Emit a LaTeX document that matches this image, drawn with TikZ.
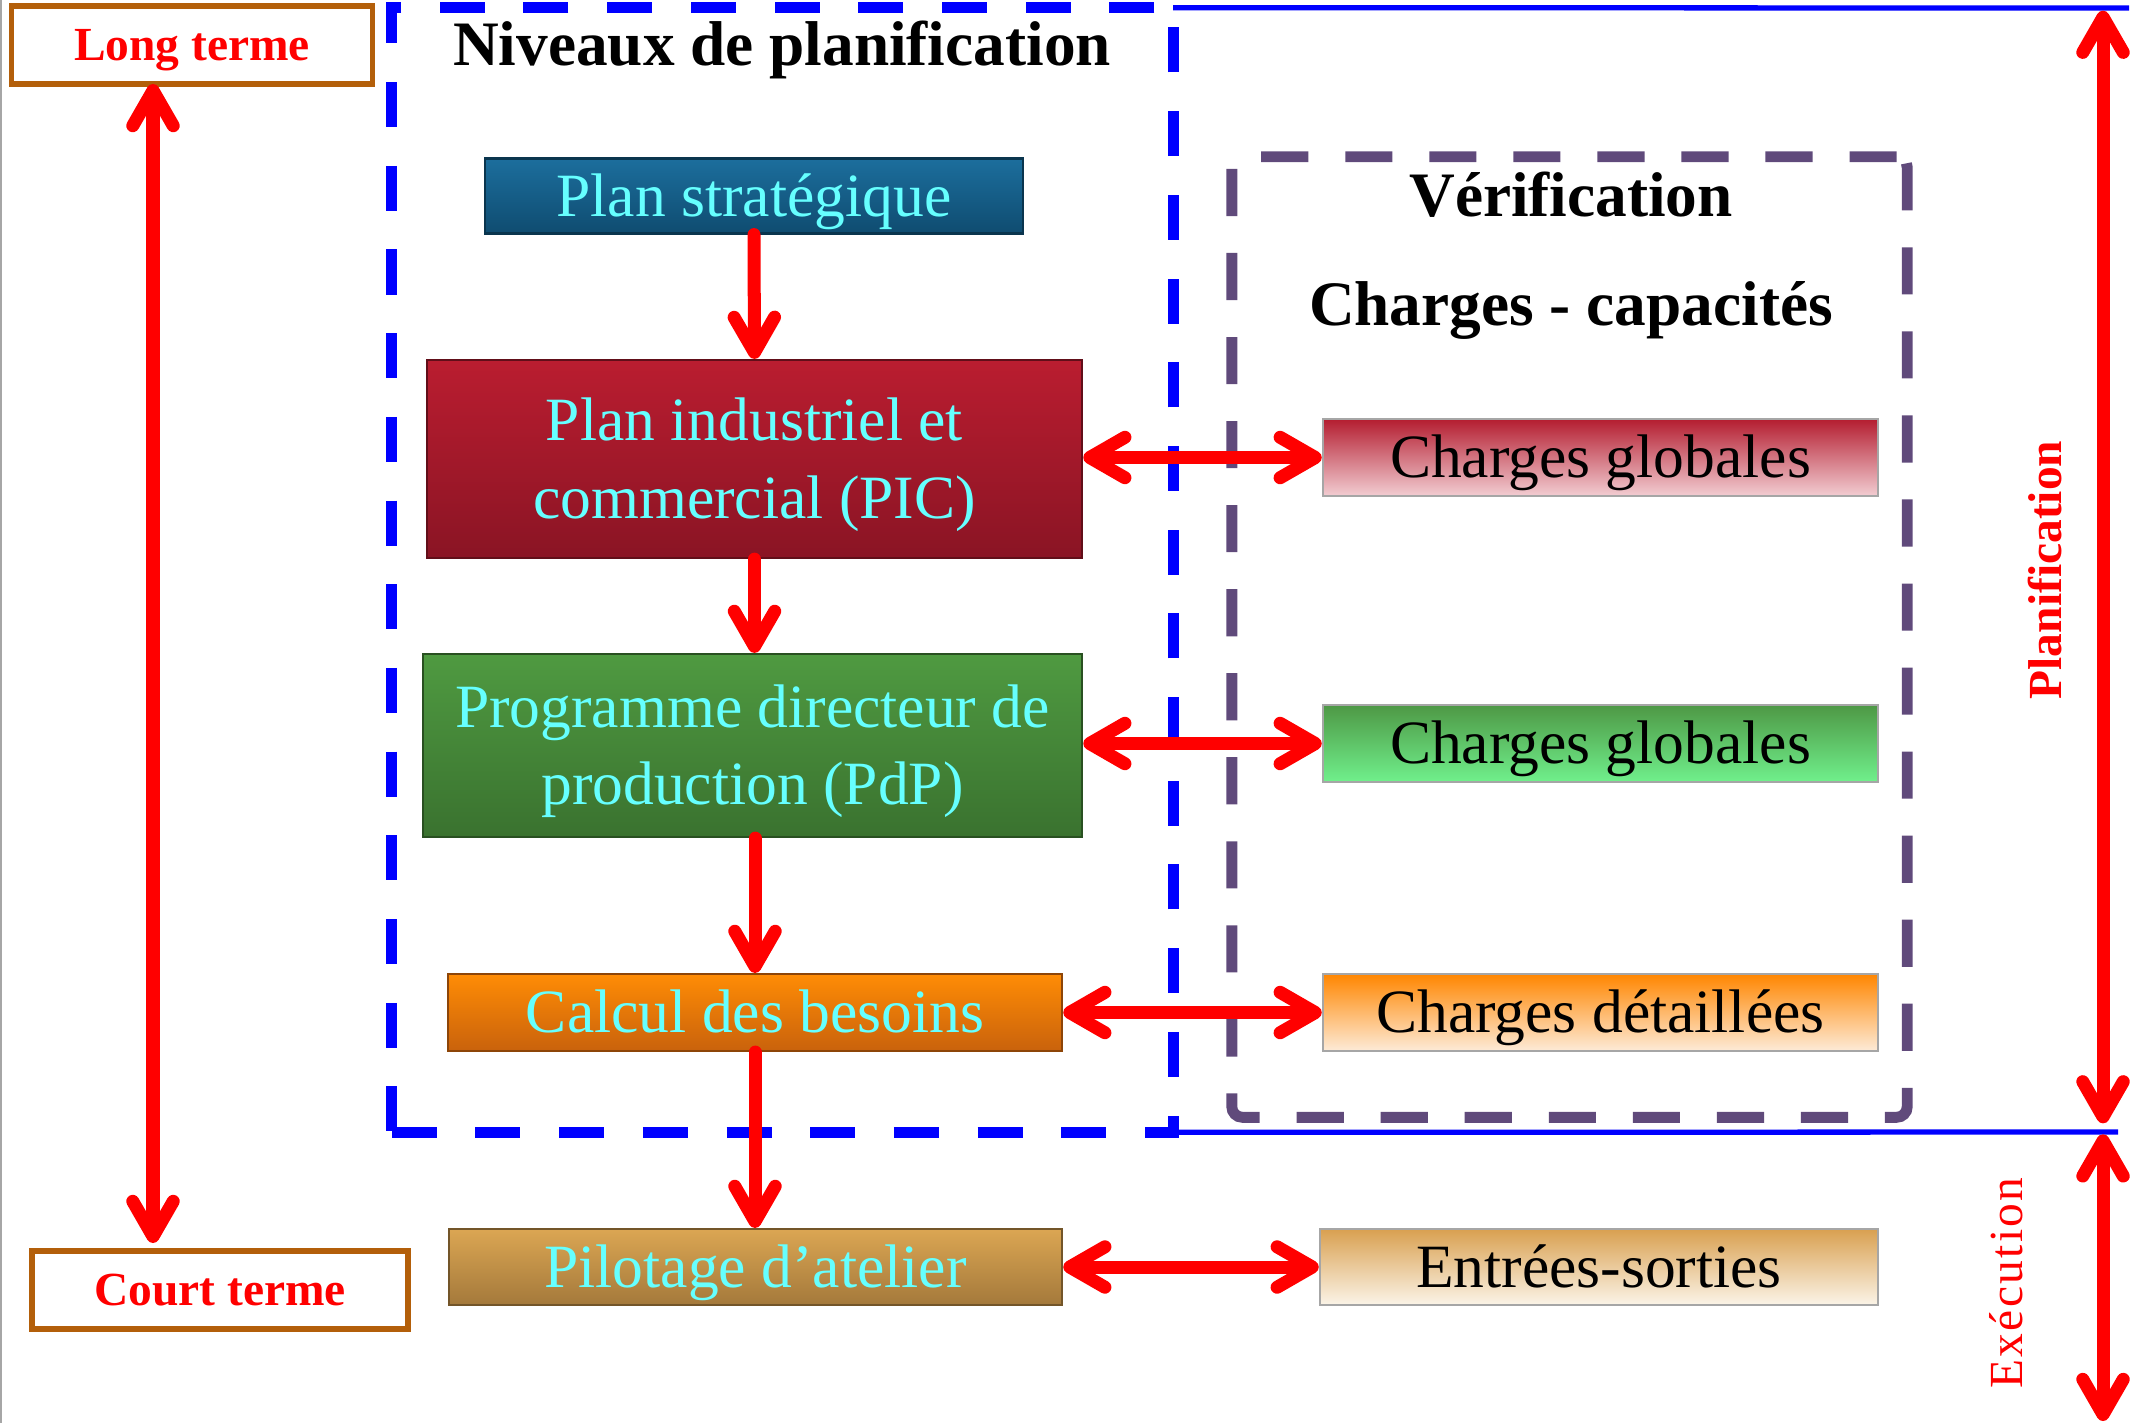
\documentclass[tikz,border=0pt]{standalone}
\usepackage{fontspec}
\setmainfont{Liberation Serif}
\usetikzlibrary{arrows.meta,calc}
\definecolor{txtcyan}{HTML}{66FFFF}
\definecolor{arrred}{HTML}{FF0000}
\definecolor{dblue}{HTML}{0000FF}
\definecolor{dpurple}{HTML}{604A7B}
\definecolor{brownb}{HTML}{B35F0A}
\definecolor{psA}{HTML}{1C6E9D}
\definecolor{psB}{HTML}{0F4C70}
\definecolor{picA}{HTML}{BA1D30}
\definecolor{picB}{HTML}{8A1424}
\definecolor{pdpA}{HTML}{4F9A41}
\definecolor{pdpB}{HTML}{3A722F}
\definecolor{cbA}{HTML}{FF8C05}
\definecolor{cbB}{HTML}{C9620C}
\definecolor{paA}{HTML}{DBA653}
\definecolor{paB}{HTML}{A4793B}
\definecolor{gaA}{HTML}{B41D30}
\definecolor{gaM}{HTML}{D47582}
\definecolor{gaB}{HTML}{F2CDD2}
\definecolor{gbA}{HTML}{4E9845}
\definecolor{gbM}{HTML}{5DC66B}
\definecolor{gbB}{HTML}{70F08C}
\definecolor{cdA}{HTML}{FF8600}
\definecolor{cdM}{HTML}{FDBA72}
\definecolor{cdB}{HTML}{FDEBD8}
\definecolor{esA}{HTML}{D9A050}
\definecolor{esM}{HTML}{EDCB9C}
\definecolor{esB}{HTML}{FBF4E8}
\tikzset{
  boxbase/.style={draw, line width=0.6pt, inner sep=0pt, align=center,
    font=\fontsize{17.5}{22}\selectfont, text height=11.6pt, text depth=0pt},
  lbox/.style={boxbase, text=txtcyan},
  twoline/.style={text height=33.6pt, text depth=0pt},
  rbox/.style={boxbase, text=black, draw=black!35},
  termbox/.style={draw=brownb, line width=1.5pt, inner sep=0pt, outer sep=0pt, text=arrred,
    font=\bfseries\fontsize{13.5}{16}\selectfont, text height=8.9pt, text depth=0pt},
  headtxt/.style={anchor=base, font=\bfseries\fontsize{18}{22}\selectfont},
  barb/.tip={Straight Barb[length=10pt,width=11.5pt,round]},
  arr/.style={draw=arrred, line width=3.7pt, line cap=round, -barb},
  darr/.style={draw=arrred, line width=3.7pt, barb-barb},
  bluedash/.style={draw=dblue, line width=3.1pt, dash pattern=on 12.8pt off 11pt, inner sep=0pt, outer sep=0pt},
  purpledash/.style={draw=dpurple, line width=3.1pt, dash pattern=on 13.4pt off 10.5pt, rounded corners=3pt, inner sep=0pt, outer sep=0pt},
  blueline/.style={draw=dblue, line width=1.5pt}
}
\begin{document}
\begin{tikzpicture}[x=0.01cm,y=-0.01cm]
\useasboundingbox (0,0) rectangle (2154,1423);
\draw[black!35, line width=0.6pt] (1,0) -- (1,1423);

% frames
\node[bluedash, minimum width=7.81cm, minimum height=11.24cm] (nb) at (782.5,570) {};
\node[purpledash, minimum width=6.75cm, minimum height=9.6cm] (np) at (1569.5,637) {};
\coordinate (tr) at (2129,8);
\coordinate (br) at (2118,1132);
\draw[blueline] (nb.north east) -- (tr);
\draw[blueline] (nb.south east) -- (br);

% headings
\node[headtxt] (title) at (782,65) {Niveaux de planification};
\node[headtxt] (verif) at (1571,216) {Vérification};
\node[headtxt] (chcap) at (1571,325) {Charges - capacités};

% left boxes
\node[lbox, top color=psA, bottom color=psB, draw=psB!70!black, minimum width=5.38cm, minimum height=0.75cm] (ps) at (754,196) {Plan stratégique};
\node[lbox, twoline, top color=picA, bottom color=picB, draw=picB!70!black, minimum width=6.55cm, minimum height=1.98cm] (pic) at (754.5,459) {Plan industriel et\\commercial (PIC)};
\node[lbox, twoline, top color=pdpA, bottom color=pdpB, draw=pdpB!70!black, minimum width=6.59cm, minimum height=1.83cm] (pdp) at (752.5,745.5) {Programme directeur de\\production (PdP)};
\node[lbox, top color=cbA, bottom color=cbB, draw=cbB!70!black, minimum width=6.14cm, minimum height=0.77cm] (cb) at (755,1012.5) {Calcul des besoins};
\node[lbox, top color=paA, bottom color=paB, draw=paB!70!black, minimum width=6.13cm, minimum height=0.76cm] (pa) at (755.5,1267) {Pilotage d’atelier};

% right boxes
\node[rbox, top color=gaA, middle color=gaM, bottom color=gaB, minimum width=5.55cm, minimum height=0.77cm] (cg1) at (1600.5,457.5) {Charges globales};
\node[rbox, top color=gbA, middle color=gbM, bottom color=gbB, minimum width=5.55cm, minimum height=0.77cm] (cg2) at (1600.5,743.5) {Charges globales};
\node[rbox, top color=cdA, middle color=cdM, bottom color=cdB, minimum width=5.55cm, minimum height=0.77cm] (cd) at (1600.5,1012.5) {Charges détaillées};
\node[rbox, top color=esA, middle color=esM, bottom color=esB, minimum width=5.58cm, minimum height=0.76cm] (es) at (1599,1267) {Entrées-sorties};

% term boxes
\node[termbox, minimum width=3.61cm, minimum height=0.78cm] (lt) at (192,45) {Long terme};
\node[termbox, minimum width=3.76cm, minimum height=0.78cm] (ct) at (220,1290) {Court terme};

% vertical flow
\draw[arr] (ps.south) -- (pic.north);
\draw[arr] (pic.south) -- (pdp.north -| pic.south);
\draw[arr] (pdp.south -| cb.north) -- (cb.north);
\draw[arr] (cb.south) -- (pa.north -| cb.south);

% horizontal links
\draw[darr] (pic.east |- cg1.west) -- (cg1.west);
\draw[darr] (pdp.east |- cg2.west) -- (cg2.west);
\draw[darr] (cb.east) -- (cd.west);
\draw[darr] (pa.east) -- (es.west);

% time axes
\coordinate (la) at (153,0);
\draw[darr, shorten >=0.08cm] (lt.south -| la) -- (ct.north -| la);
\coordinate (ra) at (2103,0);
\coordinate (rb) at (2103,1421);
\draw[darr, shorten <=0.03cm, shorten >=0.09cm] (nb.north east -| ra) -- (nb.south east -| ra);
\draw[darr, shorten <=0.02cm] (nb.south east -| ra) -- (rb);

\node[rotate=90, anchor=base, text=arrred, font=\bfseries\fontsize{13.5}{16}\selectfont] (plan) at (2061,570) {Planification};
\node[rotate=90, anchor=base, text=arrred, font=\fontsize{13.5}{16}\selectfont\addfontfeature{LetterSpace=5}] (exec) at (2022,1283) {Exécution};
\end{tikzpicture}
\end{document}
